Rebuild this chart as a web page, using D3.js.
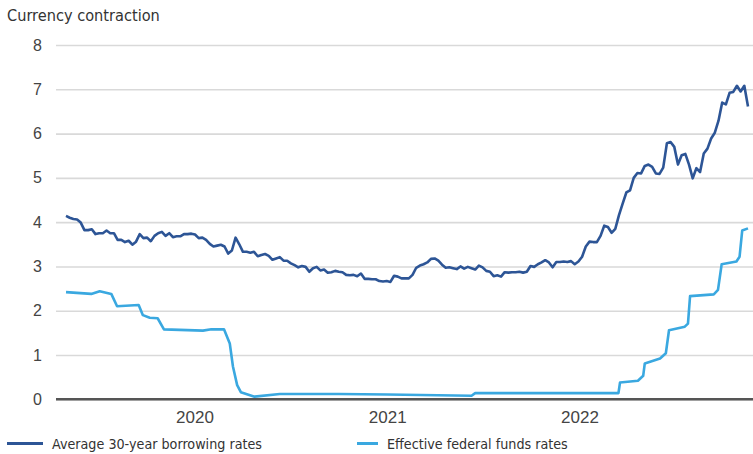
<!DOCTYPE html>
<html>
<head>
<meta charset="utf-8">
<script src="https://cdn.jsdelivr.net/npm/d3@7"></script>
<style>
  body { margin: 0; background: #fff; }
  svg { display: block; font-family: "DejaVu Sans Condensed", "DejaVu Sans", sans-serif; }
</style>
</head>
<body>
<svg width="753" height="454"></svg>
<script>
// Average 30-year borrowing rate, weekly (Thursdays) from 2019-05-02 to 2022-11-17
const mortgageStart = '2019-05-02';
const mortgageEnd = '2022-11-17';
const mortgageRates = [
  // 2019
  4.14, 4.10, 4.07, 4.06, 3.99, 3.82, 3.82, 3.84, 3.73, 3.75, 3.75, 3.81, 3.75,
  3.75, 3.60, 3.60, 3.55, 3.58, 3.49, 3.56, 3.73, 3.64, 3.65, 3.57, 3.69, 3.75, 3.78,
  3.69, 3.75, 3.66, 3.68, 3.68, 3.73, 3.73, 3.74,
  // 2020
  3.72, 3.64, 3.65, 3.60, 3.51, 3.45, 3.47, 3.49, 3.45, 3.29, 3.36, 3.65, 3.50,
  3.33, 3.33, 3.31, 3.33, 3.23, 3.26, 3.28, 3.24, 3.15, 3.18, 3.21, 3.13, 3.13,
  3.07, 3.03, 2.98, 3.01, 2.99, 2.88, 2.96, 2.99, 2.91, 2.93, 2.86, 2.87, 2.90,
  2.88, 2.87, 2.81, 2.80, 2.81, 2.78, 2.84, 2.72, 2.72, 2.71, 2.71, 2.67, 2.66, 2.67,
  // 2021
  2.65, 2.79, 2.77, 2.73, 2.73, 2.73, 2.81, 2.97, 3.02, 3.05, 3.09, 3.17,
  3.18, 3.13, 3.04, 2.97, 2.98, 2.96, 2.94, 3.00, 2.95, 2.99, 2.96, 2.93, 3.02,
  2.98, 2.90, 2.88, 2.78, 2.80, 2.77, 2.87, 2.86, 2.87, 2.87, 2.88, 2.86, 2.88, 3.01,
  2.99, 3.05, 3.09, 3.14, 3.09, 2.98, 3.10, 3.10, 3.11, 3.10, 3.12, 3.05, 3.11,
  // 2022
  3.22, 3.45, 3.56, 3.55, 3.55, 3.69, 3.92, 3.89, 3.76, 3.85, 4.16, 4.42, 4.67,
  4.72, 5.00, 5.11, 5.10, 5.27, 5.30, 5.25, 5.10, 5.09, 5.23, 5.78, 5.81, 5.70,
  5.30, 5.51, 5.54, 5.30, 4.99, 5.22, 5.13, 5.55, 5.66, 5.89, 6.02, 6.29, 6.70,
  6.66, 6.92, 6.94, 7.08, 6.95, 7.08, 6.61
];

// Effective federal funds rate at its steps
const fedDates = [
  '2019-05-02', '2019-06-19', '2019-07-05', '2019-07-27', '2019-08-07', '2019-09-17',
  '2019-09-25', '2019-10-08', '2019-10-23', '2019-11-04', '2020-01-17', '2020-02-02',
  '2020-02-26', '2020-03-08', '2020-03-14', '2020-03-22', '2020-03-29', '2020-04-24',
  '2020-06-11', '2020-10-01', '2021-01-01', '2021-06-10', '2021-06-17', '2021-12-01',
  '2022-03-16', '2022-03-19', '2022-04-22', '2022-05-02', '2022-05-05', '2022-06-03',
  '2022-06-14', '2022-06-20', '2022-07-20', '2022-07-26', '2022-07-30', '2022-09-13',
  '2022-09-21', '2022-09-28', '2022-10-26', '2022-11-01', '2022-11-06', '2022-11-17'
];
const fedRates = [
  2.42, 2.38, 2.44, 2.38, 2.10, 2.13,
  1.90, 1.84, 1.83, 1.58, 1.55, 1.58,
  1.58, 1.26, 0.74, 0.32, 0.16, 0.06,
  0.12, 0.12, 0.11, 0.08, 0.14, 0.14,
  0.14, 0.38, 0.42, 0.53, 0.81, 0.92,
  1.04, 1.56, 1.64, 1.71, 2.33, 2.37,
  2.47, 3.05, 3.11, 3.22, 3.81, 3.86
];

const yTicks = [0, 1, 2, 3, 4, 5, 6, 7, 8];
const yearTicks = ['2020-01-01', '2021-01-01', '2022-01-01'];
const seriesNames = ['Average 30-year borrowing rates', 'Effective federal funds rates'];
const colors = ['#2d5596', '#3aa8e0'];

const parse = d3.timeParse('%Y-%m-%d');

// one point per Thursday
const mortgageDates = d3.timeThursday.range(parse(mortgageStart), d3.timeDay.offset(parse(mortgageEnd), 1));
const mortgage = mortgageDates.map((d, i) => ({date: d, value: mortgageRates[i]}));
const fed = fedDates.map((d, i) => ({date: parse(d), value: fedRates[i]}));

const xScale = d3.scaleTime().domain([parse(mortgageStart), parse(mortgageEnd)]).range([66, 748]);
const yScale = d3.scaleLinear().domain([0, 8]).range([399.3, 45]);

const gridLeft = 56, gridRight = 753;

const container = d3.select('svg');

container.append('text')
  .attr('x', 7).attr('y', 21)
  .attr('font-size', 16.2).attr('fill', '#333')
  .text('Currency contraction');

// y axis: labels + gridlines
const yAxis = container.append('g')
  .attr('transform', `translate(${gridLeft},0)`)
  .call(d3.axisLeft(yScale).tickValues(yTicks).tickSize(-(gridRight - gridLeft)).tickPadding(14).tickFormat(d3.format('d')));
yAxis.select('.domain').remove();
yAxis.selectAll('.tick line').attr('stroke', '#d9d9d9').attr('stroke-width', 1.6);
yAxis.selectAll('.tick text').attr('font-size', 16).attr('fill', '#444').attr('font-family', 'inherit');

// baseline
container.append('line')
  .attr('x1', gridLeft).attr('x2', gridRight)
  .attr('y1', yScale(0)).attr('y2', yScale(0))
  .attr('stroke', '#555').attr('stroke-width', 2.5);

// x axis labels
const xAxis = container.append('g')
  .attr('transform', `translate(0,${yScale(0)})`)
  .call(d3.axisBottom(xScale).tickValues(yearTicks.map(parse)).tickSize(0).tickPadding(12).tickFormat(d3.timeFormat('%Y')));
xAxis.select('.domain').remove();
xAxis.selectAll('.tick text').attr('font-size', 17).attr('fill', '#444').attr('font-family', 'inherit');

const line = d3.line().x(d => xScale(d.date)).y(d => yScale(d.value));

container.append('path')
  .datum(fed)
  .attr('d', line)
  .attr('fill', 'none').attr('stroke', colors[1]).attr('stroke-width', 2.6)
  .attr('stroke-linejoin', 'round');

container.append('path')
  .datum(mortgage)
  .attr('d', line)
  .attr('fill', 'none').attr('stroke', colors[0]).attr('stroke-width', 2.6)
  .attr('stroke-linejoin', 'round');

// legend
const legendPos = [{x1: 7, x2: 43, tx: 52}, {x1: 357, x2: 378, tx: 387}];
const legend = container.selectAll('.legend')
  .data(seriesNames)
  .enter()
  .append('g')
  .classed('legend', true);
legend.append('line')
  .attr('x1', (d, i) => legendPos[i].x1).attr('x2', (d, i) => legendPos[i].x2)
  .attr('y1', 443.5).attr('y2', 443.5)
  .attr('stroke', (d, i) => colors[i]).attr('stroke-width', 3);
legend.append('text')
  .attr('x', (d, i) => legendPos[i].tx).attr('y', 449)
  .attr('font-size', 14.2).attr('fill', '#333')
  .text(d => d);
</script>
</body>
</html>
